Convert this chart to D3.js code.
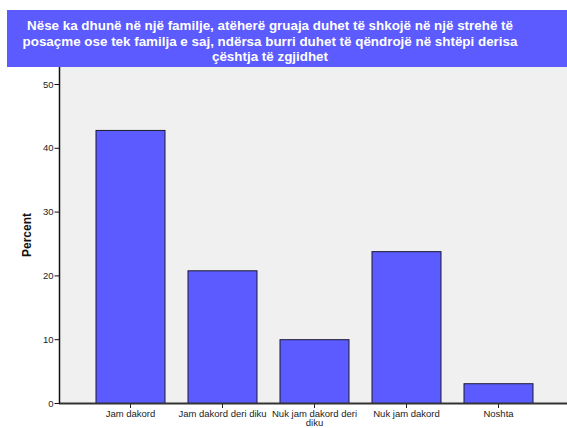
<!DOCTYPE html>
<html>
<head>
  <meta charset="UTF-8">
  <title>Percent</title>
  <script src="https://d3js.org/d3.v7.min.js"></script>
  <style>
    body { margin: 0; background: #fff; }
    svg { font-family: Arial, "Liberation Sans", sans-serif; }
    .title { fill: #fff; font-weight: bold; font-size: 13.4px; }
    .bar { fill: #5b5bff; stroke: #1a1a2e; stroke-width: 1; }
    .tick text { font-size: 9.5px; fill: #222; }
  </style>
</head>
<body>
  <svg width="567" height="428"></svg>
  <script>
    const categories = ["Jam dakord", "Jam dakord deri diku", "Nuk jam dakord deri diku", "Nuk jam dakord", "Noshta"];
    const values = [42.8, 20.8, 10.0, 23.8, 3.1];
    const yTicks = [0, 10, 20, 30, 40, 50];
    const titleLines = [
      "Nëse ka dhunë në një familje, atëherë gruaja duhet të shkojë në një strehë të",
      "posaçme ose tek familja e saj, ndërsa burri duhet të qëndrojë në shtëpi derisa",
      "çështja të zgjidhet"
    ];

    const svg = d3.select("svg");
    const plot = { left: 59, right: 567, top: 67, bottom: 403 };

    // title box
    svg.append("rect")
      .attr("x", 7).attr("y", 10)
      .attr("width", 560).attr("height", 57)
      .attr("fill", "#5b5bff");

    svg.selectAll(".title")
      .data(titleLines)
      .enter().append("text")
      .attr("class", "title")
      .attr("x", 270)
      .attr("y", (d, i) => 30 + i * 15.5)
      .attr("text-anchor", "middle")
      .text(d => d);

    // plot background
    svg.append("rect")
      .attr("x", plot.left).attr("y", plot.top)
      .attr("width", plot.right - plot.left)
      .attr("height", plot.bottom - plot.top)
      .attr("fill", "#f0f0f0");

    const x = d3.scaleBand()
      .domain(categories)
      .range([84, 544])
      .paddingInner(0.25)
      .paddingOuter(0.125);

    const y = d3.scaleLinear()
      .domain([0, 50])
      .range([plot.bottom, plot.bottom - 319]);

    svg.selectAll(".bar")
      .data(values)
      .enter().append("rect")
      .attr("class", "bar")
      .attr("x", (d, i) => x(categories[i]) + 0.5)
      .attr("y", d => y(d) + 0.5)
      .attr("width", x.bandwidth())
      .attr("height", d => plot.bottom - y(d));

    // x axis
    const xAxis = svg.append("g")
      .attr("transform", `translate(0.5,${plot.bottom})`)
      .call(d3.axisBottom(x).tickSize(5).tickSizeOuter(0));
    xAxis.select(".domain").remove();
    xAxis.selectAll(".tick line").attr("stroke", "#222");
    xAxis.selectAll(".tick text")
      .attr("y", 7)
      .each(function(d) {
        const t = d3.select(this);
        if (d === "Nuk jam dakord deri diku") {
          t.text(null);
          t.append("tspan").attr("x", 0).attr("dy", "0.71em").text("Nuk jam dakord deri");
          t.append("tspan").attr("x", 0).attr("dy", "1.0em").text("diku");
        }
      });

    svg.append("line")
      .attr("x1", plot.left).attr("x2", plot.right)
      .attr("y1", plot.bottom + 0.5).attr("y2", plot.bottom + 0.5)
      .attr("stroke", "#333").attr("stroke-width", 2);

    // y axis
    const yAxis = svg.append("g")
      .attr("transform", `translate(${plot.left + 0.5},0)`)
      .call(d3.axisLeft(y).tickValues(yTicks).tickSize(5).tickSizeOuter(0));
    yAxis.select(".domain").attr("stroke", "#111").attr("stroke-width", 1.5)
      .attr("d", `M0,${plot.top}V${plot.bottom}`);
    yAxis.selectAll(".tick line").attr("stroke", "#111");
    yAxis.selectAll(".tick text").attr("x", -6);

    svg.append("text")
      .attr("transform", `translate(31,${(plot.top + plot.bottom) / 2}) rotate(-90)`)
      .attr("text-anchor", "middle")
      .attr("font-weight", "bold")
      .attr("font-size", "12px")
      .attr("fill", "#111")
      .text("Percent");
  </script>
</body>
</html>
